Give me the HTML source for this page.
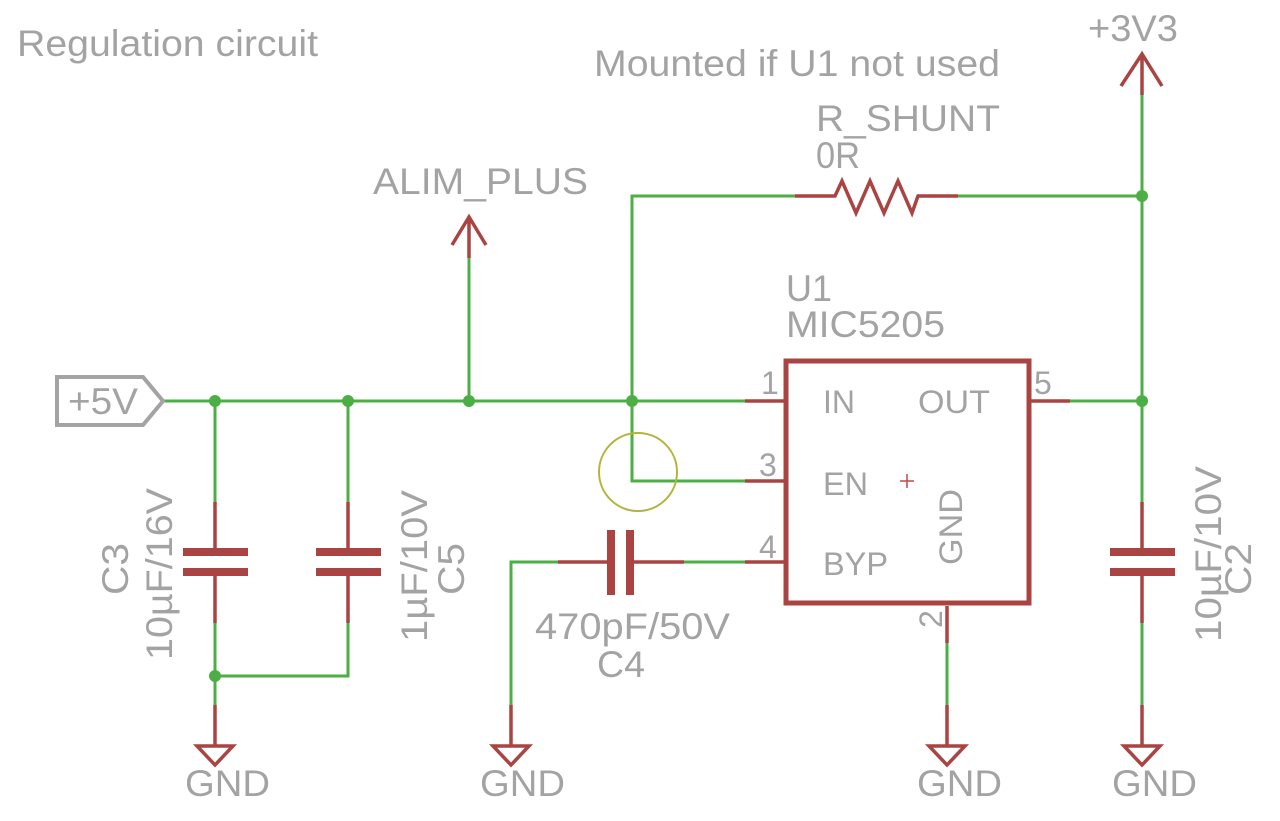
<!DOCTYPE html>
<html><head><meta charset="utf-8"><style>html,body{margin:0;padding:0;background:#fff}svg{display:block}</style></head>
<body>
<svg width="1280" height="821" viewBox="0 0 1280 821" xmlns="http://www.w3.org/2000/svg" font-family="Liberation Sans, sans-serif" fill="#a3a3a3">
<g stroke="#4caf46" stroke-width="3" fill="none">
<path d="M163 401H745M1070 401H1142M632 401V196H795M958 196H1142M1142 401V95M469 401V258"/>
<path d="M632 401V481H745M684 562H745M558 562H511V745"/>
<path d="M215 401V502M215 623V705M348 401V502M348 623V676H215"/>
<path d="M1142 401V502M1142 623V705M947 643V705"/>
</g>
<g stroke="#a94442" stroke-width="3.5" fill="none">
<path d="M745 401H785M1030 401H1070M745 481H785M745 562H785"/>
<path d="M795 196H835L842 181L856 213L870 181L884 213L898 181L912 213L918 196H958"/>
<path d="M1142 95V57M1121 86L1142 54L1162 86"/>
<path d="M469 258V218M452 245L469 217L486 245"/>
<path d="M215 502V552M215 574V623M348 502V552M348 574V623M1142 502V552M1142 574V623"/>
<path d="M558 562H612M631 562H684M947 606V643"/>
<path d="M215 705V745M511 705V745M947 705V745M1142 705V745"/>
<path d="M197 746H233L215 765ZM493 746H529L511 765ZM929 746H965L947 765ZM1124 746H1160L1142 765Z"/>
<rect x="786" y="361" width="243" height="242" stroke-width="5"/>
</g>
<g fill="#a94442">
<rect x="183" y="548" width="65" height="8"/><rect x="183" y="568" width="65" height="8"/>
<rect x="316" y="548" width="65" height="8"/><rect x="316" y="568" width="65" height="8"/>
<rect x="1110" y="548" width="65" height="8"/><rect x="1110" y="568" width="65" height="8"/>
<rect x="607" y="530" width="8" height="65"/><rect x="626" y="530" width="8" height="65"/>
</g>
<g fill="#4caf46">
<circle cx="215" cy="401" r="6"/><circle cx="348" cy="401" r="6"/><circle cx="469" cy="401" r="6"/><circle cx="632" cy="401" r="6"/><circle cx="1142" cy="401" r="6"/><circle cx="1142" cy="196" r="6"/><circle cx="215" cy="676" r="6"/>
</g>
<circle cx="638" cy="472" r="39" fill="none" stroke="#b4b43c" stroke-width="2"/>
<path d="M57 377H143L163 401L143 425H57Z" fill="none" stroke="#a3a3a3" stroke-width="4"/>
<path d="M900 481h14M907 474v14" stroke="#c04848" stroke-width="1.5"/>
<g font-size="37">
<text x="17" y="56" textLength="301" lengthAdjust="spacingAndGlyphs">Regulation circuit</text>
<text x="594" y="76" textLength="406" lengthAdjust="spacingAndGlyphs">Mounted if U1 not used</text>
<text x="816" y="131" textLength="184" lengthAdjust="spacingAndGlyphs">R_SHUNT</text>
<text x="816" y="168" textLength="44" lengthAdjust="spacingAndGlyphs">0R</text>
<text x="1088" y="41" textLength="90" lengthAdjust="spacingAndGlyphs">+3V3</text>
<text x="373" y="194" textLength="215" lengthAdjust="spacingAndGlyphs">ALIM_PLUS</text>
<text x="786" y="301" textLength="46" lengthAdjust="spacingAndGlyphs">U1</text>
<text x="786" y="337" textLength="159" lengthAdjust="spacingAndGlyphs">MIC5205</text>
<text x="68" y="414" textLength="70" lengthAdjust="spacingAndGlyphs">+5V</text>
<text x="535" y="639" textLength="195" lengthAdjust="spacingAndGlyphs">470pF/50V</text>
<text x="597" y="677" textLength="48" lengthAdjust="spacingAndGlyphs">C4</text>
<text x="185" y="796" textLength="85" lengthAdjust="spacingAndGlyphs">GND</text>
<text x="480" y="796" textLength="85" lengthAdjust="spacingAndGlyphs">GND</text>
<text x="917" y="796" textLength="85" lengthAdjust="spacingAndGlyphs">GND</text>
<text x="1112" y="796" textLength="85" lengthAdjust="spacingAndGlyphs">GND</text>
<text transform="translate(128,595) rotate(-90)" textLength="52" lengthAdjust="spacingAndGlyphs">C3</text>
<text transform="translate(172,660) rotate(-90)" textLength="172" lengthAdjust="spacingAndGlyphs">10µF/16V</text>
<text transform="translate(427,642) rotate(-90)" textLength="152" lengthAdjust="spacingAndGlyphs">1µF/10V</text>
<text transform="translate(464,595) rotate(-90)" textLength="52" lengthAdjust="spacingAndGlyphs">C5</text>
<text transform="translate(1221,642) rotate(-90)" textLength="176" lengthAdjust="spacingAndGlyphs">10µF/10V</text>
<text transform="translate(1251,595) rotate(-90)" textLength="52" lengthAdjust="spacingAndGlyphs">C2</text>
</g>
<g font-size="32">
<text x="823" y="413" textLength="32" lengthAdjust="spacingAndGlyphs">IN</text>
<text x="918" y="413" textLength="72" lengthAdjust="spacingAndGlyphs">OUT</text>
<text x="823" y="495" textLength="45" lengthAdjust="spacingAndGlyphs">EN</text>
<text x="823" y="575" textLength="65" lengthAdjust="spacingAndGlyphs">BYP</text>
<text transform="translate(962,565) rotate(-90)" textLength="76" lengthAdjust="spacingAndGlyphs">GND</text>
<text x="761" y="394">1</text>
<text x="759" y="476">3</text>
<text x="759" y="558">4</text>
<text x="1034" y="394">5</text>
<text transform="translate(942,628) rotate(-90)">2</text>
</g>
</svg>
</body></html>
